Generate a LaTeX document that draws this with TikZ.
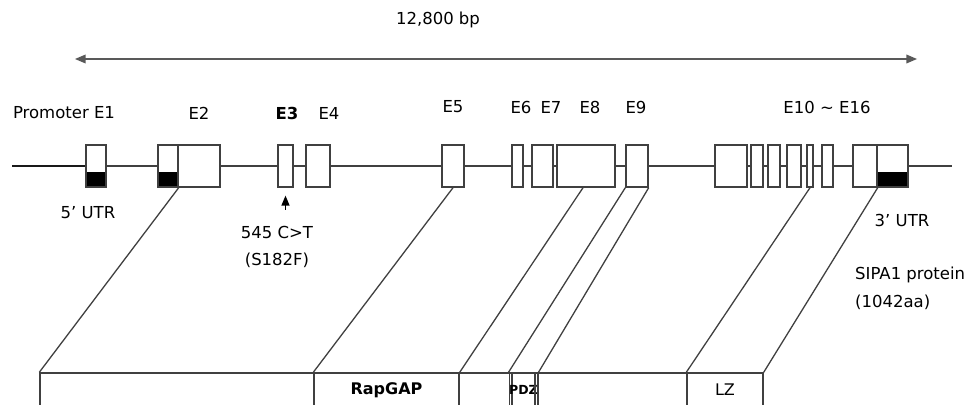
\documentclass[tikz,border=0pt]{standalone}
\usepackage{fontspec}
\setmainfont{DejaVu Sans}
\usetikzlibrary{shapes,arrows,positioning,calc}

\begin{document}
\begin{tikzpicture}[
  x=1pt, y=-1pt,
  exon/.style={
    draw=black!75, rectangle, fill=white, line width=1.4pt,
    minimum height=42pt, inner sep=0pt
  },
  utr/.style={
    path picture={\fill[black] ([yshift=15pt]path picture bounding box.south west)
      rectangle (path picture bounding box.south east);}
  },
  protpart/.style={
    draw=black!75, rectangle, line width=1.4pt,
    minimum height=34pt, inner sep=0pt, font=\fontsize{16}{19}\selectfont
  },
  lbl/.style={font=\fontsize{16.5}{19}\selectfont, inner sep=0pt},
  conn/.style={draw=black!75, line width=1.3pt},
  spanline/.style={<->, >=triangle 45, line width=1.5pt, draw=black!65}
]

\clip (0,0) rectangle (971,404);

% gene
\coordinate (start) at (12,166);
\coordinate (stop)  at (952,166);
\node[exon, utr, minimum width=20pt] (e1)  at (96,166)    {};
\node[exon, utr, minimum width=20pt] (e2a) at (168,166)   {};
\node[exon, minimum width=42pt] (e2b) at (199,166)   {};
\node[exon, minimum width=15pt] (e3)  at (285.5,166) {};
\node[exon, minimum width=24pt] (e4)  at (318,166)   {};
\node[exon, minimum width=22pt] (e5)  at (453,166)   {};
\node[exon, minimum width=11pt] (e6)  at (517.5,166) {};
\node[exon, minimum width=21pt] (e7)  at (542.5,166) {};
\node[exon, minimum width=58pt] (e8)  at (586,166)   {};
\node[exon, minimum width=22pt] (e9)  at (637,166)   {};
\node[exon, minimum width=32pt] (e10) at (731,166)   {};
\node[exon, minimum width=12pt] (e11) at (757,166)   {};
\node[exon, minimum width=12pt] (e12) at (774,166)   {};
\node[exon, minimum width=14pt] (e13) at (794,166)   {};
\node[exon, minimum width=6pt]  (e14) at (810,166)   {};
\node[exon, minimum width=11pt] (e15) at (827.5,166) {};
\node[exon, minimum width=24pt] (e16a) at (865,166)  {};
\node[exon, utr, minimum width=31pt] (e16b) at (892.5,166) {};

\draw[conn, draw=black!90, line width=2pt] (start) -- (e1);
\foreach \a/\b in {e1/e2a, e2b/e3, e3/e4, e4/e5, e5/e6, e6/e7, e7/e8, e8/e9,
  e9/e10, e10/e11, e11/e12, e12/e13, e13/e14, e14/e15, e15/e16a}
  \draw[conn] (\a) -- (\b);
\draw[conn] (e16b) -- (stop);

% exon labels
\node[lbl] (lprom) at (64,113)  {Promoter E1};
\node[lbl] (le2)   at (199,113) {E2};
\node[lbl] (le3)   at (287,113) {\bfseries E3};
\node[lbl] (le4)   at (329,113) {E4};
\node[lbl] (le5)   at (453,107) {E5};
\node[lbl] (le6)   at (521,107) {E6};
\node[lbl] (le7)   at (551,107) {E7};
\node[lbl] (le8)   at (590,107) {E8};
\node[lbl] (le9)   at (636,107) {E9};
\node[lbl] (le10)  at (827,107) {E10 \textasciitilde{} E16};

% length
\coordinate (sl) at (75,59);
\coordinate (sr) at (917,59);
\draw[spanline] (sl) -- (sr);
\node[lbl] (bp) at (438,20) {12,800 bp};

% notes
\node[lbl] (utr5) at (88,213)  {5’ UTR};
\node[lbl] (utr3) at (902,220) {3’ UTR};
\node[lbl] (snp)  at (277,232) {545 C>T};
\node[lbl] (aa)   at (277,260) {(S182F)};
\coordinate (snptail) at ([yshift=-22pt]e3.south);
\draw[->, >=triangle 45, line width=1.3pt] (snptail) -- ([yshift=-8pt]e3.south);
\node[lbl, anchor=west] (prot) at (855,275) {SIPA1 protein};
\node[lbl, anchor=west] (plen) at (855,302) {(1042aa)};

% protein
\node[protpart, minimum width=274pt] (p0)     at (177,390) {};
\node[protpart, minimum width=145pt] (rapgap) at (386.5,390) {\bfseries RapGAP};
\node[protpart, minimum width=53pt]  (p2)     at (485.5,390) {};
\node[protpart, minimum width=23pt]  (pdz)    at (523.5,390) {\fontsize{12.5}{14}\selectfont\bfseries PDZ};
\node[protpart, minimum width=152pt] (p4)     at (611,390) {};
\node[protpart, minimum width=76pt]  (lz)     at (725,390) {LZ};

% gene to protein
\draw[conn] (e2a.south east) -- (p0.north west);
\draw[conn] (e5.south)       -- (rapgap.north west);
\draw[conn] ([xshift=-3pt]e8.south) -- (rapgap.north east);
\draw[conn] (e9.south west)  -- (pdz.north west);
\draw[conn] (e9.south east)  -- (pdz.north east);
\draw[conn] (e14.south)      -- (lz.north west);
\draw[conn] (e16a.south east) -- (lz.north east);

\end{tikzpicture}
\end{document}
